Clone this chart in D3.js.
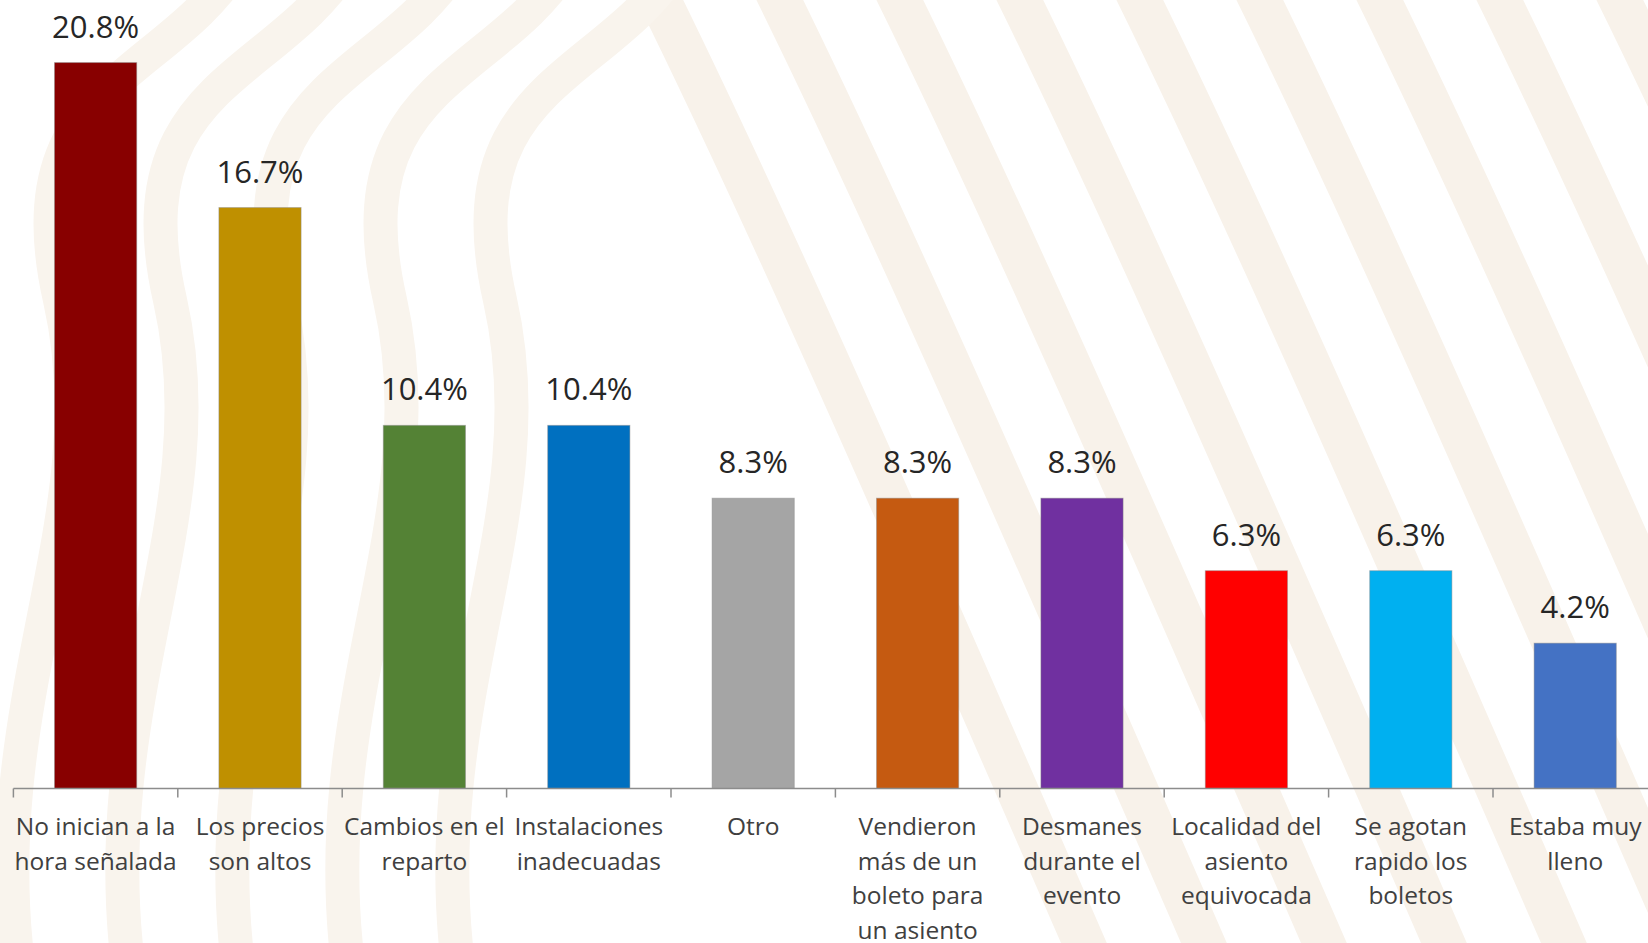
<!DOCTYPE html>
<html>
<head>
<meta charset="utf-8">
<script src="https://cdn.jsdelivr.net/npm/d3@7"></script>
<style>
  html, body { margin: 0; padding: 0; background: #ffffff; }
  svg { display: block; }
</style>
</head>
<body>
<svg id="chart" width="1648" height="943"></svg>
<script>
// ---- data ----
const categories = [
  "No inician a la hora señalada",
  "Los precios son altos",
  "Cambios en el reparto",
  "Instalaciones inadecuadas",
  "Otro",
  "Vendieron más de un boleto para un asiento",
  "Desmanes durante el evento",
  "Localidad del asiento equivocada",
  "Se agotan rapido los boletos",
  "Estaba muy lleno"
];
const categoryLines = [
  ["No inician a la", "hora señalada"],
  ["Los precios", "son altos"],
  ["Cambios en el", "reparto"],
  ["Instalaciones", "inadecuadas"],
  ["Otro"],
  ["Vendieron", "más de un", "boleto para", "un asiento"],
  ["Desmanes", "durante el", "evento"],
  ["Localidad del", "asiento", "equivocada"],
  ["Se agotan", "rapido los", "boletos"],
  ["Estaba muy", "lleno"]
];
const values = [20.83, 16.67, 10.42, 10.42, 8.33, 8.33, 8.33, 6.25, 6.25, 4.17];
const valueLabels = ["20.8%", "16.7%", "10.4%", "10.4%", "8.3%", "8.3%", "8.3%", "6.3%", "6.3%", "4.2%"];
const colors = ["#880000", "#BF9000", "#548235", "#0070C0", "#A5A5A5", "#C55A11", "#7030A0", "#FF0000", "#00B0F0", "#4472C4"];

// ---- layout ----
const W = 1648, H = 943;
const axisY = 788.5;
const svg = d3.select("#chart");

// decorative background (procedural faint stripes)
const deco = svg.append("g").attr("fill", "none").attr("stroke", "#f8f2ea")
  .attr("stroke-linecap", "round");
d3.range(0, 9).forEach(i => {
  const x0 = 640 + i * 120;
  deco.append("path")
    .attr("d", `M${x0},-40 C${x0 + 120},200 ${x0 + 260},520 ${x0 + 460},980`)
    .attr("stroke-width", 42);
});
d3.range(0, 5).forEach(i => {
  const x0 = 20 + i * 110;
  deco.append("path")
    .attr("d", `M${x0},980 C${x0 - 40},700 ${x0 + 90},520 ${x0 + 40},300 S${x0 + 150},80 ${x0 + 220},-40`)
    .attr("stroke-width", 34).attr("stroke", "#f9f4ed");
});

const x = d3.scaleBand()
  .domain(categories)
  .range([13.4, 13.4 + 164.4 * categories.length])
  .paddingInner(0.5)
  .paddingOuter(0.25);

const y = d3.scaleLinear().domain([0, 22.5]).range([axisY, axisY - 22.5 * 34.85]);

// bars
svg.append("g").selectAll("rect")
  .data(values)
  .join("rect")
  .attr("x", (d, i) => x(categories[i]))
  .attr("y", d => y(d))
  .attr("width", x.bandwidth())
  .attr("height", d => y(0) - y(d))
  .attr("fill", (d, i) => colors[i])
  .attr("stroke", "#8a8a8a")
  .attr("stroke-opacity", 0.45)
  .attr("stroke-width", 1);

// axis line + ticks at band boundaries
const step = x.step();
const x0 = x.range()[0];
const axis = svg.append("g");
axis.append("line")
  .attr("x1", x0).attr("x2", W + 10)
  .attr("y1", axisY).attr("y2", axisY)
  .attr("stroke", "#8c8c8c").attr("stroke-width", 1.5);
axis.selectAll("line.tick")
  .data(d3.range(categories.length + 1))
  .join("line")
  .attr("class", "tick")
  .attr("x1", i => x0 + i * step).attr("x2", i => x0 + i * step)
  .attr("y1", axisY).attr("y2", axisY + 9)
  .attr("stroke", "#8c8c8c").attr("stroke-width", 1.5);

// value labels
svg.append("g").selectAll("text")
  .data(values)
  .join("text")
  .attr("x", (d, i) => x(categories[i]) + x.bandwidth() / 2)
  .attr("y", d => y(d) - 25)
  .attr("text-anchor", "middle")
  .attr("font-family", "Open Sans, sans-serif")
  .attr("font-size", 31)
  .attr("fill", "#262626")
  .text((d, i) => valueLabels[i]);

// category labels
const cat = svg.append("g")
  .attr("font-family", "Open Sans, sans-serif")
  .attr("font-size", 24.5)
  .attr("fill", "#404040")
  .attr("text-anchor", "middle");
cat.selectAll("text")
  .data(categories)
  .join("text")
  .attr("x", d => x(d) + x.bandwidth() / 2)
  .attr("y", 835)
  .each(function(d, i) {
    d3.select(this).selectAll("tspan")
      .data(categoryLines[i])
      .join("tspan")
      .attr("x", x(d) + x.bandwidth() / 2)
      .attr("dy", (l, j) => j === 0 ? 0 : 34.5)
      .text(l => l);
  });
</script>
</body>
</html>
